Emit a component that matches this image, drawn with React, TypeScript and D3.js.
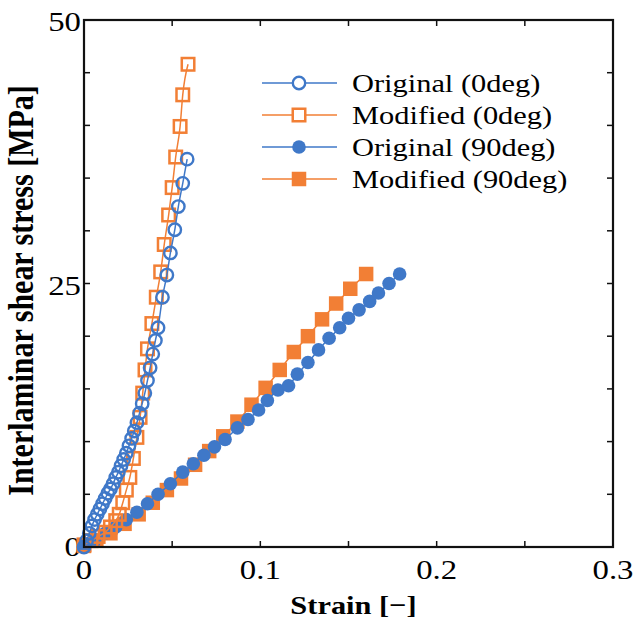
import React, { useEffect, useRef } from "react";
import * as d3 from "d3";

// strain [-], stress [MPa]
const original0: [number, number][] = [
  [0, 0], [0.0015, 0.6], [0.003, 1.3], [0.0045, 2.0], [0.006, 2.6], [0.0075, 3.1],
  [0.009, 3.6], [0.0105, 4.1], [0.012, 4.6], [0.0135, 5.1], [0.015, 5.5], [0.0165, 6.0],
  [0.018, 6.6], [0.0195, 7.1], [0.021, 7.7], [0.0225, 8.3], [0.024, 8.9], [0.0255, 9.6],
  [0.027, 10.3], [0.0285, 11.0], [0.03, 11.8], [0.0315, 12.7], [0.033, 13.6], [0.0345, 14.6],
  [0.036, 15.8], [0.0375, 17.0], [0.039, 18.3], [0.0405, 19.6], [0.042, 20.8], [0.0445, 23.7],
  [0.047, 25.8], [0.049, 27.9], [0.0515, 30.1], [0.0535, 32.3], [0.056, 34.5], [0.0585, 36.8],
];
const modified0: [number, number][] = [
  [0, 0.2], [0.004, 0.6], [0.008, 1.0], [0.012, 1.4], [0.015, 1.9], [0.018, 2.5],
  [0.02, 3.1], [0.022, 4.2], [0.024, 5.4], [0.026, 6.6], [0.028, 8.4], [0.03, 10.4],
  [0.0318, 12.3], [0.0333, 14.6], [0.0346, 16.8], [0.036, 18.8], [0.0385, 21.2], [0.041, 23.7],
  [0.0435, 26.1], [0.0455, 28.7], [0.048, 31.5], [0.05, 34.1], [0.052, 37.0], [0.0545, 39.9],
  [0.056, 42.9], [0.059, 45.8],
];
const original90: [number, number][] = [
  [0, 0], [0.006, 0.6], [0.012, 1.3], [0.018, 1.9], [0.024, 2.6], [0.03, 3.3],
  [0.036, 4.1], [0.042, 5.0], [0.049, 6.0], [0.056, 7.1], [0.062, 7.9], [0.068, 8.7],
  [0.074, 9.5], [0.08, 10.2], [0.087, 11.3], [0.093, 12.1], [0.099, 13.0], [0.104, 13.9],
  [0.11, 14.9], [0.116, 15.3], [0.121, 16.4], [0.127, 17.5], [0.133, 18.7], [0.139, 19.8],
  [0.145, 20.8], [0.15, 21.7], [0.156, 22.5], [0.162, 23.3], [0.167, 24.1], [0.173, 25.0],
  [0.179, 25.9],
];
const modified90: [number, number][] = [
  [0, 0.1], [0.007, 0.6], [0.015, 1.3], [0.023, 2.2], [0.031, 3.1], [0.039, 4.2],
  [0.047, 5.4], [0.055, 6.5], [0.063, 7.8], [0.071, 9.1], [0.079, 10.5], [0.087, 11.9],
  [0.095, 13.5], [0.103, 15.1], [0.111, 16.8], [0.119, 18.5], [0.127, 20.0], [0.135, 21.6],
  [0.143, 23.1], [0.151, 24.5], [0.16, 25.9],
];

const xTickLabels = [0, 0.1, 0.2, 0.3];
const yTickLabels = [0, 25, 50];
const legendLabels = ["Original (0deg)", "Modified (0deg)", "Original (90deg)", "Modified (90deg)"];

const BLUE = "#3f78c8";
const ORANGE = "#f27f35";
const FONT = "Liberation Serif, Times New Roman, serif";
const STRETCH = 1.17; // the text in the picture is a bit wide

const App = () => {
  const ref = useRef<SVGSVGElement>(null);

  useEffect(() => {
    const svg = d3.select(ref.current);
    svg.selectAll("*").remove();

    const margin = { top: 20, right: 22, bottom: 87, left: 84 };
    const width = 635 - margin.left - margin.right;
    const height = 634 - margin.top - margin.bottom;

    const x = d3.scaleLinear().domain([0, 0.3]).range([0, width]);
    const y = d3.scaleLinear().domain([0, 50]).range([height, 0]);

    const g = svg.append("g").attr("transform", `translate(${margin.left},${margin.top})`);

    const label = (
      parent: d3.Selection<SVGGElement, unknown, null, undefined>,
      tx: number,
      ty: number,
      text: string,
      size: number,
      anchor: string,
      bold = false
    ) =>
      parent
        .append("text")
        .attr("transform", `translate(${tx},${ty}) scale(${STRETCH},1)`)
        .attr("text-anchor", anchor)
        .style("font-family", FONT)
        .style("font-size", `${size}px`)
        .style("font-weight", bold ? "bold" : "normal")
        .text(text);

    // inward ticks on all four sides
    const tick = 6;
    const xt = d3.range(0, 0.3001, 0.05);
    const yt = d3.range(0, 50.001, 5);
    const ticks = g.append("g").attr("stroke", "#111").attr("stroke-width", 1.5);
    xt.forEach((v) => {
      ticks.append("line").attr("x1", x(v)).attr("x2", x(v)).attr("y1", height).attr("y2", height - tick);
      ticks.append("line").attr("x1", x(v)).attr("x2", x(v)).attr("y1", 0).attr("y2", tick);
    });
    yt.forEach((v) => {
      ticks.append("line").attr("x1", 0).attr("x2", tick).attr("y1", y(v)).attr("y2", y(v));
      ticks.append("line").attr("x1", width).attr("x2", width - tick).attr("y1", y(v)).attr("y2", y(v));
    });

    xTickLabels.forEach((d) => label(g, x(d), height + 32, String(d), 28, "middle"));
    yTickLabels.forEach((d) => label(g, -3, y(d) + (d === 0 ? 9 : 11), String(d), 28, "end"));

    label(g, width / 2 + 5, height + 67, "Strain [\u2212]", 26, "middle", true);

    g.append("text")
      .attr("transform", `translate(-51,${height / 2 + 7}) rotate(-90) scale(1,${STRETCH})`)
      .attr("text-anchor", "middle")
      .style("font-family", FONT)
      .style("font-size", "30px")
      .style("font-weight", "bold")
      .text("Interlaminar shear stress [MPa]");

    const line = d3
      .line<[number, number]>()
      .x((d) => x(d[0]))
      .y((d) => y(d[1]))
      .curve(d3.curveMonotoneX);

    const series = [
      { data: modified90, color: ORANGE, shape: "square", filled: true },
      { data: original90, color: BLUE, shape: "circle", filled: true },
      { data: modified0, color: ORANGE, shape: "square", filled: false },
      { data: original0, color: BLUE, shape: "circle", filled: false },
    ];

    const drawMarker = (
      sel: d3.Selection<SVGGElement, unknown, null, undefined>,
      cx: number,
      cy: number,
      shape: string,
      filled: boolean,
      color: string
    ) => {
      if (shape === "circle") {
        sel
          .append("circle")
          .attr("cx", cx)
          .attr("cy", cy)
          .attr("r", filled ? 6.8 : 6.2)
          .attr("fill", filled ? color : "none")
          .attr("stroke", color)
          .attr("stroke-width", filled ? 0 : 2.4);
      } else {
        const s = filled ? 14.5 : 12.5;
        sel
          .append("rect")
          .attr("x", cx - s / 2)
          .attr("y", cy - s / 2)
          .attr("width", s)
          .attr("height", s)
          .attr("fill", filled ? color : "none")
          .attr("stroke", color)
          .attr("stroke-width", filled ? 0 : 2.5);
      }
    };

    const plot = g.append("g");
    series.forEach((s) => {
      plot
        .append("path")
        .datum(s.data)
        .attr("fill", "none")
        .attr("stroke", s.color)
        .attr("stroke-width", 1.5)
        .attr("d", line);
      const m = plot.append("g");
      s.data.forEach((d) => drawMarker(m, x(d[0]), y(d[1]), s.shape, s.filled, s.color));
    });

    // frame
    g.append("rect")
      .attr("width", width)
      .attr("height", height)
      .attr("fill", "none")
      .attr("stroke", "#111")
      .attr("stroke-width", 2.2);

    // legend
    const legendStyle = [
      { color: BLUE, shape: "circle", filled: false },
      { color: ORANGE, shape: "square", filled: false },
      { color: BLUE, shape: "circle", filled: true },
      { color: ORANGE, shape: "square", filled: true },
    ];
    const lg = svg.append("g").attr("transform", "translate(262,83)");
    legendLabels.forEach((text, i) => {
      const row = lg.append("g").attr("transform", `translate(0,${i * 32})`);
      const st = legendStyle[i];
      row.append("line").attr("x1", 0).attr("x2", 75).attr("y1", 0).attr("y2", 0).attr("stroke", st.color).attr("stroke-width", 1.5);
      const mk = row.append("g");
      drawMarker(mk, 37, 0, st.shape, st.filled, st.color);
      if (!st.filled) mk.selectAll("*").attr("fill", "#fff");
      label(row, 90, 9, text, 26, "start");
    });
  }, []);

  return (
    <svg
      ref={ref}
      width={635}
      height={634}
      style={{ position: "absolute", left: 0, top: 0, background: "#fff" }}
    />
  );
};

export default App;
